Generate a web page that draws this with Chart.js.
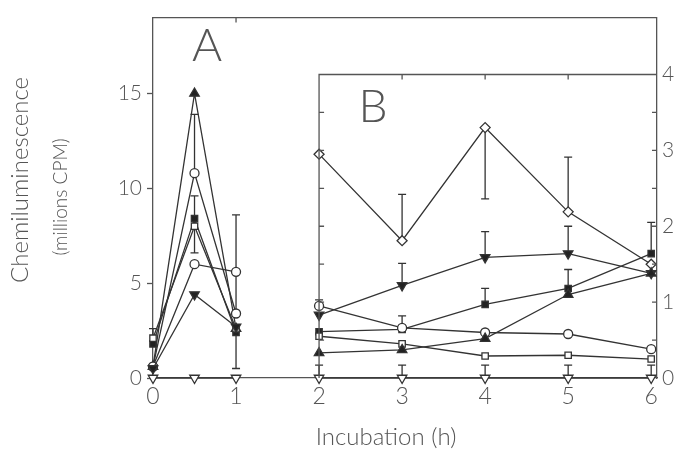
<!DOCTYPE html>
<html lang="en">
<head>
  <meta charset="UTF-8">
  <title>Chemiluminescence vs incubation</title>
  <script src="https://cdn.jsdelivr.net/npm/chart.js"></script>
  <style>
    html, body { margin: 0; padding: 0; background: #fff; }
    #wrap { width: 681px; height: 451px; }
  </style>
</head>
<body>
<div id="wrap"><canvas id="cl"></canvas></div>
<script>
  // time points (h)
  const timeA = [0, 0.5, 1];
  const timeB = [2, 3, 4, 5, 6];

  // panel A, left axis (millions CPM)
  const aTriUp       = [0.6, 15.0, 2.6];
  const aCircle      = [0.6, 10.8, 3.4];
  const aSquareFill  = [1.8, 8.4, 2.4];
  const aSquareOpen  = [2.1, 8.0, 2.6];
  const aDiamond     = [0.6, 6.0, 5.6];
  const aTriDown     = [0.5, 4.4, 2.7];
  const aTriDownOpen = [0, 0, 0];

  // panel B, right axis
  const bDiamond     = [2.95, 1.81, 3.30, 2.19, 1.50];
  const bTriDown     = [0.83, 1.22, 1.59, 1.64, 1.38];
  const bSquareFill  = [0.61, 0.64, 0.97, 1.18, 1.64];
  const bCircle      = [0.95, 0.66, 0.60, 0.58, 0.38];
  const bSquareOpen  = [0.55, 0.45, 0.29, 0.30, 0.25];
  const bTriUp       = [0.33, 0.37, 0.52, 1.10, 1.38];
  const bTriDownOpen = [0, 0, 0, 0, 0];

  // error bar ends (null = none)
  const aCircleHi     = [null, 13.9, 8.6];
  const aSquareFillHi = [2.6, 9.6, null];
  const aSquareFillLo = [null, 6.6, 0.5];
  const bDiamondHi    = [null, 2.42, null, 2.91, null];
  const bDiamondLo    = [null, null, 2.36, null, null];
  const bTriDownHi    = [null, 1.51, 1.93, 2.00, null];
  const bSquareFillHi = [null, 0.82, 1.18, 1.43, 2.05];
  const bCircleHi     = [1.03, null, null, null, null];
  const bTriDownOpenHi = [0.17, 0.17, 0.17, 0.17, 0.17];

  const leftTicks = [0, 5, 10, 15];
  const rightTicks = [0, 1, 2, 3, 4];
  const xTicks = [0, 1, 2, 3, 4, 5, 6];

  const INK = '#333';
  const AXIS = '#555';
  const FONT = 'Lato';

  function pts(xs, ys) { return xs.map((x, i) => ({ x: x, y: ys[i] })); }

  function series(xs, ys, axis, style, filled, down, hi, lo) {
    return {
      data: pts(xs, ys),
      yAxisID: axis,
      clip: false,
      borderColor: INK,
      borderWidth: 1.3,
      pointStyle: style,
      pointRotation: down ? 180 : 0,
      pointRadius: style === 'triangle' ? 5.5 : (style === 'rectRot' ? 5 : 4.5),
      pointBorderWidth: 1.3,
      pointBorderColor: INK,
      pointBackgroundColor: filled ? '#222' : '#fff',
      errHi: hi || null,
      errLo: lo || null,
      tension: 0
    };
  }

  const datasets = [
    series(timeA, aTriDownOpen, 'y', 'triangle', false, true),
    series(timeA, aTriDown, 'y', 'triangle', true, true),
    series(timeA, aDiamond, 'y', 'circle', false, false),
    series(timeA, aSquareOpen, 'y', 'rect', false, false),
    series(timeA, aSquareFill, 'y', 'rect', true, false, aSquareFillHi, aSquareFillLo),
    series(timeA, aCircle, 'y', 'circle', false, false, aCircleHi),
    series(timeA, aTriUp, 'y', 'triangle', true, false),

    series(timeB, bTriDownOpen, 'y2', 'triangle', false, true, bTriDownOpenHi),
    series(timeB, bTriUp, 'y2', 'triangle', true, false),
    series(timeB, bSquareOpen, 'y2', 'rect', false, false),
    series(timeB, bCircle, 'y2', 'circle', false, false, bCircleHi),
    series(timeB, bSquareFill, 'y2', 'rect', true, false, bSquareFillHi),
    series(timeB, bTriDown, 'y2', 'triangle', true, true, bTriDownHi),
    series(timeB, bDiamond, 'y2', 'rectRot', false, false, bDiamondHi, bDiamondLo)
  ];

  // vertical error bars with caps, drawn under the markers
  const errorBars = {
    id: 'errorBars',
    beforeDatasetsDraw(chart) {
      const ctx = chart.ctx;
      const xs = chart.scales.x;
      ctx.save();
      ctx.strokeStyle = INK;
      ctx.lineWidth = 1.3;
      chart.data.datasets.forEach(ds => {
        const ys = chart.scales[ds.yAxisID];
        [ds.errHi, ds.errLo].forEach(ends => {
          if (!ends) return;
          ends.forEach((v, i) => {
            if (v === null) return;
            const px = xs.getPixelForValue(ds.data[i].x);
            const p0 = ys.getPixelForValue(ds.data[i].y);
            const p1 = ys.getPixelForValue(v);
            ctx.beginPath();
            ctx.moveTo(px, p0); ctx.lineTo(px, p1);
            ctx.moveTo(px - 4, p1); ctx.lineTo(px + 4, p1);
            ctx.stroke();
          });
        });
      });
      ctx.restore();
    }
  };

  // outer frame top, panel B box, inner ticks, panel letters and titles
  const frames = {
    id: 'frames',
    afterDraw(chart) {
      const ctx = chart.ctx;
      const xs = chart.scales.x, yl = chart.scales.y, yr = chart.scales.y2;
      const a = chart.chartArea;
      ctx.save();
      ctx.strokeStyle = AXIS;
      ctx.lineWidth = 1.3;
      ctx.beginPath();
      ctx.moveTo(a.left, a.top); ctx.lineTo(a.right, a.top);
      // top ticks on outer frame
      [1].forEach(v => {
        const px = xs.getPixelForValue(v);
        ctx.moveTo(px, a.top); ctx.lineTo(px, a.top + 5);
      });
      // panel B box
      const bx = xs.getPixelForValue(2);
      const by = yr.getPixelForValue(4);
      ctx.moveTo(bx, a.bottom); ctx.lineTo(bx, by); ctx.lineTo(a.right, by);
      [3, 4, 5].forEach(v => {
        const px = xs.getPixelForValue(v);
        ctx.moveTo(px, by); ctx.lineTo(px, by + 5);
      });
      for (let v = 0.5; v < 4; v += 0.5) {
        const py = yr.getPixelForValue(v);
        ctx.moveTo(bx, py); ctx.lineTo(bx + 5, py);
        ctx.moveTo(a.right, py); ctx.lineTo(a.right - 5, py);
      }
      ctx.stroke();

      ctx.fillStyle = '#555';
      ctx.textAlign = 'center';
      ctx.textBaseline = 'middle';
      ctx.font = '300 46px ' + FONT;
      ctx.fillText('A', xs.getPixelForValue(0.65), yl.getPixelForValue(17.5));
      ctx.fillText('B', xs.getPixelForValue(2.65), yl.getPixelForValue(14.3));

      ctx.font = '300 24px ' + FONT;
      ctx.fillText('Incubation (h)', 386, 437);

      ctx.translate(20, 180);
      ctx.rotate(-Math.PI / 2);
      ctx.font = '300 24px ' + FONT;
      ctx.fillText('Chemiluminescence', 0, 0);
      ctx.restore();

      ctx.save();
      ctx.fillStyle = '#555';
      ctx.textAlign = 'center';
      ctx.textBaseline = 'middle';
      ctx.translate(61, 197);
      ctx.rotate(-Math.PI / 2);
      ctx.font = '300 19px ' + FONT;
      ctx.fillText('(millions CPM)', 0, 0);
      ctx.restore();
    }
  };

  const tickFont = { family: FONT, size: 23, weight: '300' };

  new Chart(document.getElementById('cl').getContext('2d'), {
    type: 'line',
    data: { datasets: datasets },
    plugins: [errorBars, frames],
    options: {
      responsive: true,
      maintainAspectRatio: false,
      animation: false,
      layout: { padding: { top: 12, left: 0, right: 0, bottom: 0 } },
      plugins: { legend: { display: false }, tooltip: { enabled: false } },
      scales: {
        x: {
          type: 'linear',
          min: 0,
          max: 6.07,
          afterBuildTicks: s => { s.ticks = xTicks.map(v => ({ value: v })); },
          afterFit: s => { s.height = 73; },
          grid: { display: true, drawOnChartArea: false, drawTicks: false },
          border: { display: true, color: AXIS, width: 1.3 },
          ticks: { color: '#555', font: tickFont, padding: 5, maxRotation: 0 }
        },
        y: {
          type: 'linear',
          position: 'left',
          min: 0,
          max: 19.0,
          afterBuildTicks: s => { s.ticks = leftTicks.map(v => ({ value: v })); },
          afterFit: s => { s.width = 153; },
          grid: { drawOnChartArea: false, drawTicks: true, tickLength: 6, color: AXIS, tickWidth: 1.3 },
          border: { display: true, color: AXIS, width: 1.3 },
          ticks: { color: '#555', font: { family: FONT, size: 21, weight: '300' }, padding: 5 }
        },
        y2: {
          type: 'linear',
          position: 'right',
          min: 0,
          max: 4.75,
          afterBuildTicks: s => { s.ticks = rightTicks.map(v => ({ value: v })); },
          afterFit: s => { s.width = 24; },
          grid: { drawOnChartArea: false, drawTicks: false },
          border: { display: true, color: AXIS, width: 1.3 },
          ticks: { color: '#555', font: { family: FONT, size: 21, weight: '300' }, padding: 5 }
        }
      }
    }
  });
</script>
</body>
</html>
